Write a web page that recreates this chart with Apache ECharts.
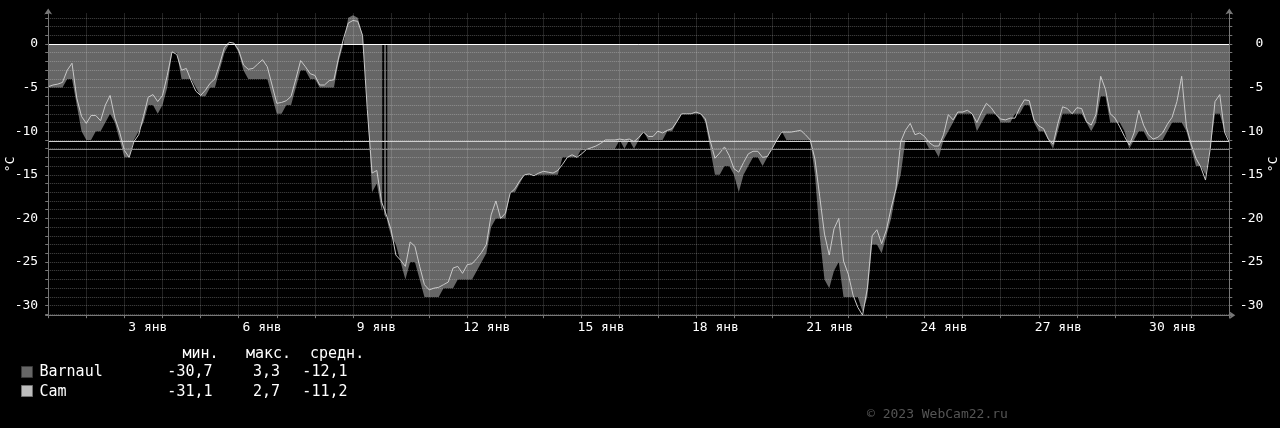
<!DOCTYPE html>
<html>
<head>
<meta charset="utf-8">
<title>Barnaul / Cam</title>
<script src="https://cdn.jsdelivr.net/npm/echarts@6/dist/echarts.min.js"></script>
<style>
  html, body { margin: 0; padding: 0; background: #000; }
  #chart { width: 1280px; height: 428px; }
</style>
</head>
<body>
<div id="chart"></div>
<script>
// readings every 3 hours, starting 1 Jan 00:00
const stepHours = 3

const barnaul = [
  -5, -5, -5, -5, -4, -4, -7, -10,
  -11, -11, -10, -10, -9, -8, -9, -11,
  -13, -13, -11, -10, -9, -7, -7, -8,
  -7, -5, -1, -1, -4, -4, -4, -5,
  -6, -6, -5, -5, -3, -1, 0, 0,
  -1, -3, -4, -4, -4, -4, -4, -6,
  -8, -8, -7, -7, -5, -3, -3, -4,
  -4, -5, -5, -5, -5, -2, 0, 3,
  3.3, 3, 1, -7, -17, -16, -19, -20,
  -22, -23, -25, -27, -25, -25, -27, -29,
  -29, -29, -29, -28, -28, -28, -27, -27,
  -27, -27, -26, -25, -24, -21, -20, -20,
  -20, -17, -17, -16, -15, -15, -15, -15,
  -15, -15, -15, -15, -13, -13, -13, -13,
  -12, -12, -12, -12, -12, -12, -12, -12,
  -11, -12, -11, -12, -11, -10, -11, -11,
  -11, -11, -10, -10, -9, -8, -8, -8,
  -8, -8, -9, -12, -15, -15, -14, -14,
  -15, -17, -15, -14, -13, -13, -14, -13,
  -12, -11, -10, -11, -11, -11, -11, -11,
  -11, -15, -22, -27, -28, -26, -25, -29,
  -29, -29, -29, -30.7, -29, -23, -23, -24,
  -22, -20, -17, -15, -11, -11, -11, -11,
  -11, -12, -12, -13, -11, -10, -9, -8,
  -8, -8, -8, -10, -9, -8, -8, -8,
  -9, -9, -9, -8, -8, -7, -7, -9,
  -10, -10, -11, -12, -10, -8, -8, -8,
  -8, -8, -9, -10, -9, -6, -6, -9,
  -9, -9, -10, -12, -11, -10, -10, -11,
  -11, -11, -11, -10, -9, -9, -9, -10,
  -12, -14, -14, -15, -12, -8, -8, -10,
  -11
]

const cam = [
  -4.9, -4.7, -4.6, -4.4, -3.0, -2.2, -6.2, -8.3,
  -9.1, -8.2, -8.2, -8.8, -7.0, -5.9, -8.5, -10.1,
  -12.2, -13.0, -11.2, -10.4, -8.3, -6.1, -5.8, -6.6,
  -5.9, -3.6, -0.9, -1.2, -3.0, -2.8, -4.2, -5.4,
  -5.9, -5.3, -4.5, -4.0, -2.3, -0.4, 0.2, 0.1,
  -0.7, -2.4, -2.9, -2.8, -2.3, -1.8, -2.6, -4.7,
  -6.8, -6.7, -6.5, -6.0, -4.0, -1.9, -2.6, -3.4,
  -3.6, -4.7, -4.7, -4.2, -4.1, -1.5, 0.6, 2.4,
  2.7, 2.6, 1.0, -7.5, -14.8, -14.5, -18.1, -19.6,
  -21.3, -24.2, -24.8, -25.5, -22.7, -23.2, -25.5, -27.6,
  -28.2, -28.0, -27.9, -27.6, -27.3, -25.7, -25.5, -26.3,
  -25.3, -25.2, -24.6, -23.9, -23.0, -19.6, -18.0, -20.0,
  -19.4, -17.1, -16.6, -15.7, -15.0, -14.9, -15.1, -14.8,
  -14.6, -14.7, -14.8, -14.5, -13.8, -13.0, -12.7, -13.0,
  -12.6, -12.1, -11.9, -11.7, -11.4, -11.0, -11.0, -11.0,
  -10.9, -11.0, -10.9, -11.2, -10.7, -10.1, -10.6, -10.6,
  -10.0, -10.2, -9.9, -9.7, -8.9, -8.0, -8.0, -8.0,
  -7.8, -8.0, -8.6, -11.1, -13.1, -12.5, -11.8, -12.8,
  -14.3, -14.7, -13.6, -12.6, -12.3, -12.3, -13.0, -12.9,
  -12.0, -11.0, -10.1, -10.1, -10.1, -10.0, -9.9, -10.4,
  -11.0, -13.2, -17.5, -21.8, -24.2, -21.2, -20.0, -24.9,
  -26.4, -28.8, -30.2, -31.1, -28.0, -22.0, -21.3, -22.9,
  -21.3, -18.8, -16.6, -11.2, -9.9, -9.1, -10.4, -10.2,
  -10.6, -11.3, -11.7, -11.7, -10.4, -8.1, -8.7, -7.8,
  -7.8, -7.6, -8.0, -9.0, -7.8, -6.8, -7.3, -8.1,
  -8.6, -8.7, -8.5, -8.5, -7.3, -6.4, -6.5, -8.7,
  -9.4, -9.7, -10.9, -11.5, -9.1, -7.2, -7.4, -8.0,
  -7.3, -7.4, -8.9, -9.3, -8.1, -3.7, -5.2, -8.0,
  -8.5, -9.5, -10.6, -11.6, -10.2, -7.6, -9.3, -10.4,
  -10.9, -10.7, -10.2, -9.2, -8.4, -6.6, -3.7, -9.5,
  -11.5, -13.1, -14.1, -15.6, -12.0, -6.6, -5.8, -10.1,
  -11.3
]

// hours with no Barnaul record
const barnaulGaps = [[210.4, 211.6], [212.8, 213.6]]

const legendHead = ['мин.', 'макс.', 'средн.']
const barnaulStats = ['-30,7', '3,3', '-12,1']
const camStats = ['-31,1', '2,7', '-11,2']
const barnaulAvg = -12.1
const camAvg = -11.2

const yMin = -31.1
const yMax = 3.5
const monthHours = 744
const monthName = 'янв'

const mono = "'DejaVu Sans Mono', monospace"
const gridColor = 'rgba(255,255,255,0.28)'
const axisColor = '#777'

const toPoints = arr => arr.map((v, i) => [i * stepHours, v])

function dayLabel(value) {
  const day = value / 24 + 1
  if (day % 3 !== 0 || day > 31) return ''
  return (day < 10 ? ' ' : '') + day + ' ' + monthName
}

function yAxisFor(side) {
  const left = side === 'left'
  return {
    type: 'value',
    position: side,
    min: yMin,
    max: yMax,
    splitNumber: 7,
    z: 10,
    name: '°C',
    nameLocation: 'middle',
    nameRotate: 90,
    nameGap: left ? 31 : 38,
    nameMoveOverlap: false,
    nameTextStyle: { color: '#fff', fontFamily: mono, fontSize: 13 },
    axisLine: {
      show: true, onZero: false,
      lineStyle: { color: axisColor },
      symbol: ['none', 'arrow'], symbolSize: [6, 6], symbolOffset: [0, 5]
    },
    axisTick: { show: true, length: 3, lineStyle: { color: axisColor } },
    minorTick: { show: true, splitNumber: 5, length: 3, lineStyle: { color: axisColor } },
    axisLabel: {
      color: '#fff', fontFamily: mono, fontSize: 13,
      margin: left ? 10 : 34, align: 'right',
      showMinLabel: false, showMaxLabel: false
    },
    splitLine: {
      show: left, showMinLine: false, showMaxLine: false,
      lineStyle: { color: gridColor, type: [1, 1] }
    },
    minorSplitLine: { show: left, lineStyle: { color: gridColor, type: [1, 1] } }
  }
}

// y is the top of the text box
function legendText(text, x, y, align) {
  return {
    type: 'text', silent: true, x, y,
    style: { text, fill: '#fff', font: '15px ' + mono, align }
  }
}

const chart = echarts.init(document.getElementById('chart'))

chart.setOption({
  backgroundColor: '#000',
  animation: false,
  grid: { left: 48.2, right: 50.7, top: 13.5, bottom: 112.8, containLabel: false, outerBoundsMode: 'none' },
  xAxis: {
    type: 'value',
    min: 0,
    max: monthHours,
    interval: 24,
    z: 10,
    axisLine: {
      show: true, onZero: false,
      lineStyle: { color: axisColor },
      symbol: ['none', 'arrow'], symbolSize: [6, 6], symbolOffset: [0, 6]
    },
    axisTick: { show: true, length: 3, lineStyle: { color: axisColor } },
    axisLabel: {
      color: '#fff', fontFamily: mono, fontSize: 13, margin: 6,
      padding: [0, 0, 0, 39], formatter: dayLabel,
      showMinLabel: true, showMaxLabel: true
    },
    splitLine: {
      show: true, showMinLine: false, showMaxLine: false,
      lineStyle: { color: gridColor, type: [1, 1] }
    }
  },
  yAxis: [yAxisFor('left'), yAxisFor('right')],
  series: [
    {
      name: 'Barnaul',
      type: 'line',
      data: toPoints(barnaul),
      symbol: 'none',
      silent: true,
      z: 2,
      lineStyle: { width: 0 },
      areaStyle: { color: '#666666', opacity: 1 },
      markArea: {
        silent: true,
        z: 3,
        itemStyle: { color: '#000' },
        data: barnaulGaps.map(g => [{ xAxis: g[0], yAxis: 0 }, { xAxis: g[1], yAxis: yMin }])
      }
    },
    {
      name: 'Cam',
      type: 'line',
      data: toPoints(cam),
      symbol: 'none',
      silent: true,
      z: 4,
      lineStyle: { color: '#c8c8c8', width: 1 },
      markLine: {
        silent: true,
        symbol: ['none', 'none'],
        label: { show: false },
        data: [
          { yAxis: 0, lineStyle: { color: '#ffffff', width: 1, type: 'solid' } },
          { yAxis: camAvg, lineStyle: { color: '#d0d0d0', width: 1, type: 'solid' } },
          { yAxis: barnaulAvg, lineStyle: { color: '#8a8a8a', width: 1, type: 'solid' } }
        ]
      }
    }
  ],
  graphic: [
    { type: 'rect', silent: true, shape: { x: 21.5, y: 366.5, width: 11, height: 11 },
      style: { fill: '#666666', stroke: '#3a3a3a', lineWidth: 1 } },
    { type: 'rect', silent: true, shape: { x: 21.5, y: 385.5, width: 11, height: 11 },
      style: { fill: '#bdbdbd', stroke: '#707070', lineWidth: 1 } },
    legendText(legendHead[0], 182.5, 347, 'left'),
    legendText(legendHead[1], 246, 347, 'left'),
    legendText(legendHead[2], 310, 347, 'left'),
    legendText('Barnaul', 39.5, 365, 'left'),
    legendText(barnaulStats[0], 212.5, 365, 'right'),
    legendText(barnaulStats[1], 280, 365, 'right'),
    legendText(barnaulStats[2], 347.5, 365, 'right'),
    legendText('Cam', 39.5, 384.5, 'left'),
    legendText(camStats[0], 212.5, 384.5, 'right'),
    legendText(camStats[1], 280, 384.5, 'right'),
    legendText(camStats[2], 347.5, 384.5, 'right'),
    {
      type: 'text', silent: true, x: 867, y: 408,
      style: { text: '© 2023 WebCam22.ru', fill: '#555', font: '13px ' + mono, align: 'left' }
    }
  ]
})
</script>
</body>
</html>
